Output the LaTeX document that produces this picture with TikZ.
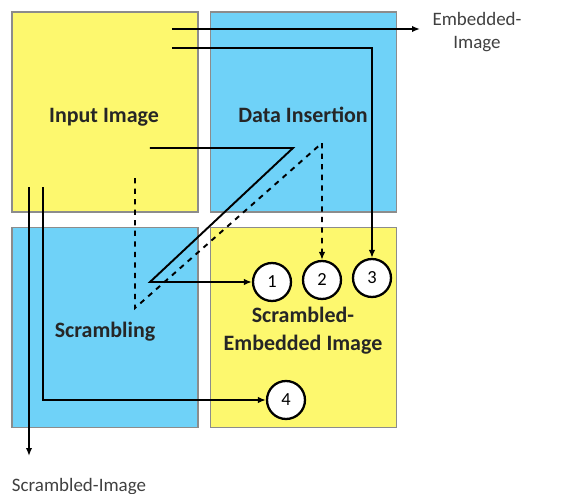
\documentclass[tikz,border=0pt]{standalone}
\usepackage{fontspec}
\setmainfont{Carlito}
\usetikzlibrary{arrows.meta,positioning}

\definecolor{boxyellow}{HTML}{FDF86E}
\definecolor{boxblue}{HTML}{6FD2F8}

\begin{document}
\begin{tikzpicture}[x=0.02cm, y=-0.02cm, line width=1.1pt, >={Latex[length=1.6mm,width=1.3mm]}, quad/.style={rectangle, draw=black!45, line width=0.6pt, minimum width=3.72cm, minimum height=4cm}, title/.style={align=center, font=\fontsize{12.5}{16}\selectfont\bfseries, text=black!85}, num/.style={circle, draw, line width=1.3pt, fill=white, minimum size=0.76cm, inner sep=0pt, font=\fontsize{10.5}{12}\selectfont}, note/.style={align=center, font=\fontsize{10.8}{13.6}\selectfont, text=black!75}]
  \useasboundingbox (0,0) rectangle (566,494);
  \node[quad, fill=boxyellow] (input) at (105,112) {};
  \node[quad, fill=boxblue] (insert) at (303.5,112) {};
  \node[quad, fill=boxblue] (scramble) at (105,327.5) {};
  \node[quad, fill=boxyellow] (output) at (303.5,327.5) {};

  \node[title, anchor=base] (input text) at (104,122) {Input Image};
  \node[title, anchor=base] (insert text) at (303,122) {Data Insertion};
  \node[title, anchor=base] (scramble text) at (105,337) {Scrambling};
  \node[title] (output text) at (303,331) {Scrambled-\\Embedded Image};

  \node[num] (n1) at (272,282) {1};
  \node[num] (n2) at (322,280) {2};
  \node[num] (n3) at (372,278) {3};
  \node[num] (n4) at (286,400) {4};

  \node[note] (embedded) at (477,32) {Embedded-\\Image};
  \node[note, anchor=base] (scrambled) at (79,491) {Scrambled-Image};

  \coordinate (e0) at (172,29);
  \coordinate (e1) at (420,29);
  \coordinate (t0) at (172,48);
  \coordinate (p0) at (150,148);
  \coordinate (p1) at (293,148);
  \coordinate (p2) at (150,282);
  \coordinate (q0) at (135,178);
  \coordinate (q1) at (135,308);
  \coordinate (q2) at (322,143);
  \coordinate (v0) at (29,187);
  \coordinate (v1) at (29,456);
  \coordinate (w0) at (43,187);

  \draw[->] (e0) -- (e1);
  \draw[->] (t0) -| (n3.north);
  \draw[->] (p0) -- (p1) -- (p2) -- (n1.west);
  \draw[->, dashed] (q0) -- (q1) -- (q2) -- (n2.north);
  \draw[->] (v0) -- (v1);
  \draw[->] (w0) |- (n4.west);
\end{tikzpicture}
\end{document}
